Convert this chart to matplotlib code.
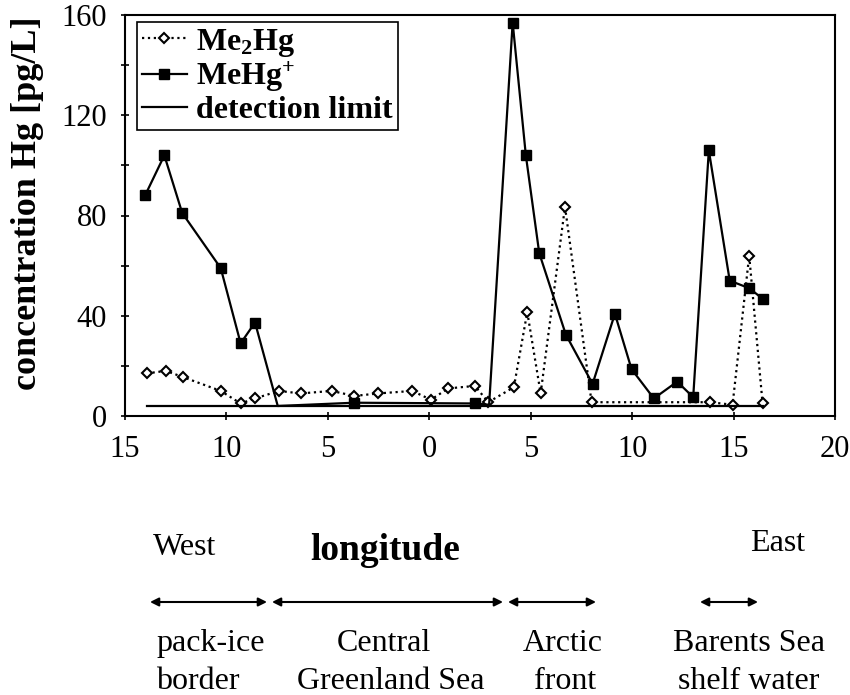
import matplotlib
matplotlib.use("Agg")
import matplotlib.pyplot as plt
from matplotlib.ticker import MultipleLocator, FuncFormatter

plt.rcParams['font.family'] = ['Liberation Serif', 'DejaVu Serif']
plt.rcParams['mathtext.fontset'] = 'custom'
plt.rcParams['mathtext.rm'] = 'Liberation Serif:bold'
plt.rcParams['mathtext.it'] = 'Liberation Serif:bold'
plt.rcParams['mathtext.bf'] = 'Liberation Serif:bold'

# longitude: negative = West, positive = East
me2hg_lon = [-13.93, -12.99, -12.13, -10.28, -9.30, -8.59, -7.41, -6.34, -4.81, -3.70,
             -2.52, -0.84, 0.08, 0.93, 2.25, 2.91, 4.17, 4.83, 5.49, 6.69,
             8.00, 13.83, 14.95, 15.77, 16.43]
me2hg_val = [17, 18, 15.5, 10, 5, 7, 10, 9, 10, 8,
             9, 10, 6.5, 11, 12, 5.5, 11.5, 41.5, 9, 83.5,
             5.5, 5.5, 4.5, 64, 5]

mehg_lon = [-14.01, -13.06, -12.18, -10.28, -9.30, -8.59, -7.47, -3.70, 2.25, 2.95,
            4.11, 4.76, 5.42, 6.73, 8.05, 9.15, 9.97, 11.07, 12.22, 13.01,
            13.78, 14.81, 15.77, 16.43]
mehg_val = [88, 104, 81, 59, 29, 37.3, 4, 5.3, 5, 4.5,
            157, 104, 65, 32.5, 12.8, 40.8, 18.7, 7, 13.7, 7.5,
            106, 54, 51, 46.8]
mehg_hidden = [6, 9]  # points lying on the detection line, no marker drawn

detect_lon = [-13.93, 16.43]
detect_val = [4, 4]

x_ticks = [-15, -10, -5, 0, 5, 10, 15, 20]

regions = ["pack-ice\nborder", "Central\nGreenland Sea", "Arctic\nfront", "Barents Sea\nshelf water"]
region_spans = [(150, 267), (272, 503), (508, 596), (700, 758)]  # pixel span of arrows
region_x = [(156, 156), (384, 391), (563, 565), (749, 749)]

W, H = 850, 695
fig = plt.figure(figsize=(W / 100, H / 100), dpi=100)
ax = fig.add_axes([125 / W, 1 - 416 / H, 710 / W, 401 / H])

ax.plot(me2hg_lon, me2hg_val, ls=':', lw=1.6, color='black', marker='D', ms=5,
        mfc='white', mec='black', mew=1.5, label=r'Me$_2$Hg')
marks = [i for i in range(len(mehg_lon)) if i not in mehg_hidden]
ax.plot(mehg_lon, mehg_val, ls='-', lw=1.6, color='black', marker='s', ms=7,
        mfc='black', mec='black', markevery=marks, label=r'MeHg$^{+}$')
ax.plot(detect_lon, detect_val, ls='-', lw=1.6, color='black', label='detection limit')

ax.set_xlim(-15, 20)
ax.set_ylim(0, 160)
ax.set_xticks(x_ticks)
ax.xaxis.set_major_formatter(FuncFormatter(lambda v, p: f"{abs(int(v))}"))
ax.yaxis.set_major_locator(MultipleLocator(40))
ax.yaxis.set_minor_locator(MultipleLocator(20))
ax.tick_params(axis='both', which='both', direction='inout', length=6, width=1.2, labelsize=22)
ax.tick_params(axis='x', pad=11)
ax.tick_params(axis='y', pad=10)
for s in ax.spines.values():
    s.set_linewidth(1.5)

leg = ax.legend(loc='upper left', bbox_to_anchor=(0.017, 0.983), borderaxespad=0,
                prop={'weight': 'bold', 'size': 23}, handlelength=1.4, handletextpad=0.3,
                labelspacing=0.05, borderpad=0.15, fancybox=False, framealpha=1,
                edgecolor='black')
leg.get_frame().set_linewidth(1.2)

fig.text(28 / W, 1 - 203 / H, 'concentration Hg [pg/L]', rotation=90, ha='center',
         va='center', fontsize=26, fontweight='bold')

fig.text(153 / W, 1 - 555 / H, 'West', fontsize=23, ha='left', va='baseline')
fig.text(385 / W, 1 - 560 / H, 'longitude', fontsize=27, fontweight='bold', ha='center', va='baseline')
fig.text(750 / W, 1 - 551 / H, 'East', fontsize=23, ha='left', va='baseline')

for name, (x0, x1), (tx1, tx2) in zip(regions, region_spans, region_x):
    fig.add_artist(matplotlib.patches.FancyArrowPatch(
        (x0 / W, 1 - 602 / H), (x1 / W, 1 - 602 / H), transform=fig.transFigure,
        arrowstyle='<|-|>,head_length=5,head_width=2.5', lw=1.5, color='black',
        shrinkA=0, shrinkB=0))
    line1, line2 = name.split('\n')
    ha = 'left' if tx1 == tx2 and name.startswith('pack') else 'center'
    fig.text(tx1 / W, 1 - 651 / H, line1, fontsize=23, ha=ha, va='baseline')
    fig.text(tx2 / W, 1 - 689 / H, line2, fontsize=23, ha=ha, va='baseline')

fig.savefig('out.png', dpi=100)
